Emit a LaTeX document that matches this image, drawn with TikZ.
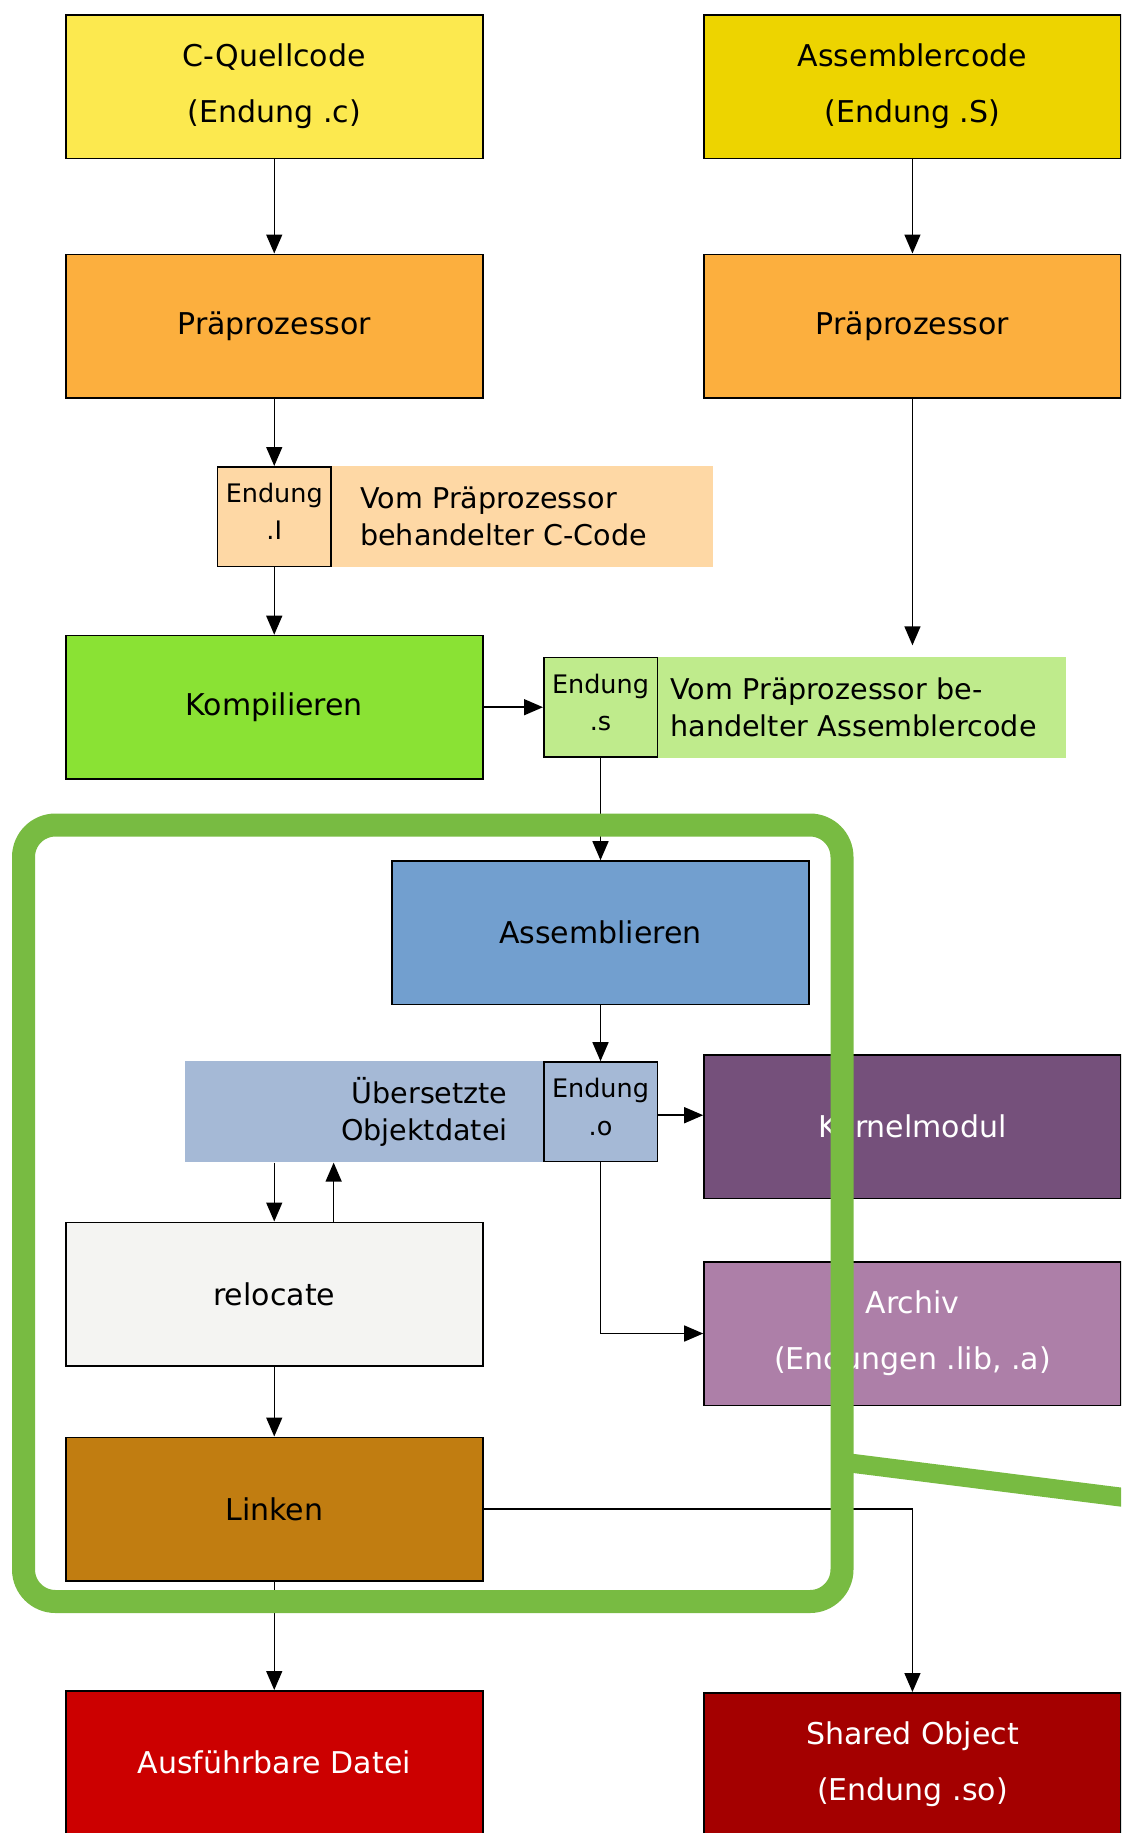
\documentclass[tikz,border=0pt]{standalone}
\usepackage{fontspec}
\setmainfont{DejaVu Sans}
\usepackage{xcolor}
\usepackage{tikz}
\usetikzlibrary{positioning,arrows.meta}

\definecolor{cquellgelb}{HTML}{FCE94F}
\definecolor{asmgelb}{HTML}{EDD400}
\definecolor{praeorange}{HTML}{FCAF3E}
\definecolor{ipfirsich}{HTML}{FED8A5}
\definecolor{kompgruen}{HTML}{8AE234}
\definecolor{shellgruen}{HTML}{BFEB8C}
\definecolor{asmblau}{HTML}{729FCF}
\definecolor{ohellblau}{HTML}{A5B9D6}
\definecolor{kernlila}{HTML}{75507B}
\definecolor{archlila}{HTML}{AD7FA8}
\definecolor{relgrau}{HTML}{F4F4F2}
\definecolor{linkbraun}{HTML}{C17D11}
\definecolor{ausfrot}{HTML}{CC0000}
\definecolor{sorot}{HTML}{A40000}
\definecolor{rahmengruen}{HTML}{78BB42}

\begin{document}
\begin{tikzpicture}[
    x=0.5pt, y=-0.5pt,
    box/.style={draw, line width=0.75pt, minimum width=208.5pt, minimum height=71.75pt, inner sep=0pt, align=center, font=\fontsize{15}{28}\selectfont},
    extbox/.style={draw, line width=0.75pt, minimum width=56.75pt, minimum height=49.75pt, inner sep=0pt, text depth=5pt, align=center, font=\fontsize{12.75}{18.75}\selectfont},
    note/.style={minimum height=50.5pt, inner ysep=0pt, font=\fontsize{14.3}{18.75}\selectfont},
    arrow/.style={-{Triangle[length=9.5pt, width=8pt]}, line width=0.75pt},
    groupframe/.style={draw=rahmengruen, line width=11.5pt, rounded corners=16pt}
]
    \path[use as bounding box, clip] (0,0) rectangle (1121,1833);

    % Sources
    \node[box, fill=cquellgelb, anchor=north west] (cquell) at (65,14) {C-Quellcode\\(Endung .c)};
    \node[box, fill=asmgelb, right=109.85pt of cquell] (asmcode) {Assemblercode\\(Endung .S)};
    \node[box, fill=praeorange, below=47.25pt of cquell] (prae1) {Präprozessor};
    \node[box, fill=praeorange, below=47.25pt of asmcode] (prae2) {Präprozessor};

    % Intermediate files
    \node[extbox, fill=ipfirsich, below=33.75pt of prae1] (endi) {Endung\\.I};
    \node[note, fill=ipfirsich, right=0pt of endi, text width=162.5pt, inner xsep=14pt, align=left] (inote) {Vom Präprozessor\\behandelter C-Code};
    \node[box, fill=kompgruen, below=33.85pt of endi] (komp) {Kompilieren};
    \node[extbox, fill=shellgruen, right=29.75pt of komp] (ends) {Endung\\.s};
    \node[note, fill=shellgruen, right=0pt of ends, text width=192pt, inner xsep=6pt, align=left] (snote) {Vom Präprozessor be-\\handelter Assemblercode};
    \node[box, fill=asmblau, below=51.25pt of ends] (asm) {Assemblieren};
    \node[extbox, fill=ohellblau, below=28pt of asm] (endo) {Endung\\.o};
    \node[note, fill=ohellblau, left=0pt of endo, text width=143.75pt, inner xsep=17.5pt, align=right] (onote) {Übersetzte\\Objektdatei};

    % Results
    \node[box, fill=kernlila, text=white, below=327.75pt of prae2] (kernel) {Kernelmodul};
    \node[box, fill=archlila, text=white, below=31pt of kernel] (archiv) {Archiv\\(Endungen .lib, .a)};
    \node[box, fill=relgrau, below=220.9pt of komp] (reloc) {relocate};
    \node[box, fill=linkbraun, below=35pt of reloc] (linken) {Linken};
    \node[box, fill=ausfrot, text=white, below=54.25pt of linken] (ausf) {Ausführbare Datei};
    \node[box, fill=sorot, text=white, below=143pt of archiv] (shared) {Shared Object\\(Endung .so)};

    % Flow
    \coordinate (sin) at ([yshift=5.5pt]prae2.south |- snote.north);
    \draw[arrow] (cquell) -- (prae1);
    \draw[arrow] (asmcode) -- (prae2);
    \draw[arrow] (prae1) -- (endi);
    \draw[arrow] (endi) -- (komp);
    \draw[arrow] (komp) -- (ends);
    \draw[arrow] (prae2) -- (sin);
    \draw[arrow] (ends) -- (asm);
    \draw[arrow] (asm) -- (endo);
    \draw[arrow] ([yshift=-1.75pt]endo.east) -- ([yshift=-1.75pt]endo.east -| kernel.west);
    \draw[arrow] (endo) |- (archiv);
    \draw[arrow] (onote.south -| reloc.north) -- (reloc.north);
    \draw[arrow] ([xshift=29.7pt]reloc.north) -- ([xshift=29.7pt]reloc.north |- onote.south);
    \draw[arrow] (reloc) -- (linken);
    \draw[arrow] (linken) -- (ausf);
    \draw[arrow] (linken) -| (shared);

    % Green frame
    \draw[groupframe] (23.5,825) rectangle (842,1601.5);
    \draw[draw=rahmengruen, line width=9.5pt] (842,1462) -- (1200,1507);
\end{tikzpicture}
\end{document}
